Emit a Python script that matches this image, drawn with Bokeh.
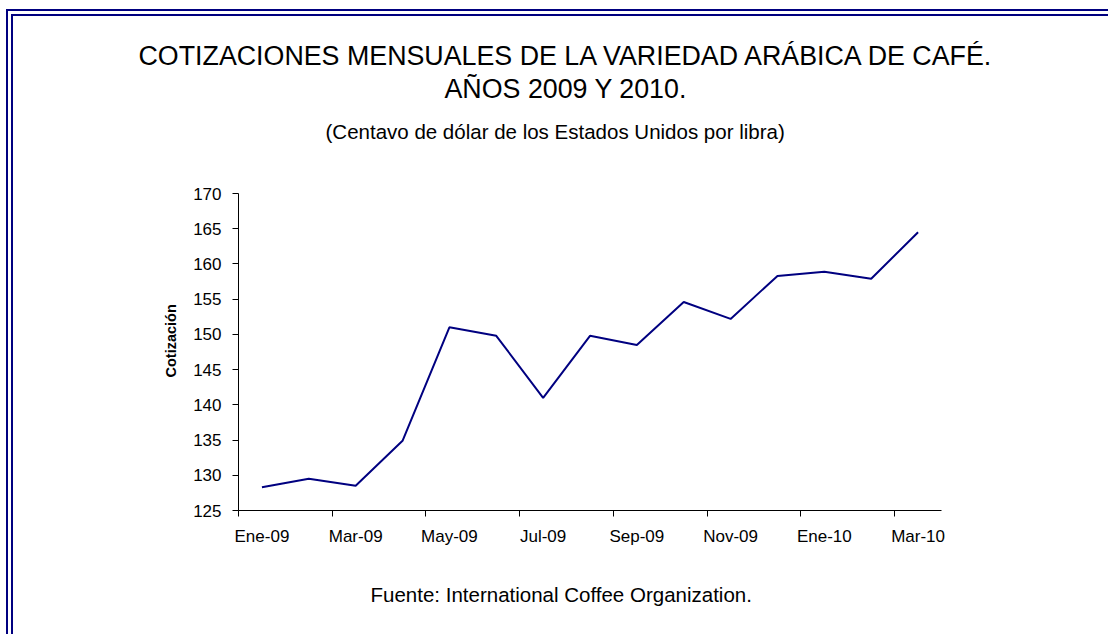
from bokeh.plotting import figure
from bokeh.models import FixedTicker, Range1d, Title
from bokeh.embed import file_html
from bokeh.resources import INLINE

# ---- data ----
months = ["Ene-09", "Feb-09", "Mar-09", "Abr-09", "May-09", "Jun-09", "Jul-09",
          "Ago-09", "Sep-09", "Oct-09", "Nov-09", "Dic-09", "Ene-10", "Feb-10", "Mar-10"]
prices = [128.3, 129.5, 128.5, 134.9, 151.0, 149.8, 141.0, 149.8, 148.5,
          154.6, 152.2, 158.3, 158.9, 157.9, 164.5]
y_ticks = [125, 130, 135, 140, 145, 150, 155, 160, 165, 170]

title_1 = "COTIZACIONES MENSUALES DE LA VARIEDAD ARÁBICA DE CAFÉ."
title_2 = "AÑOS 2009 Y 2010."
subtitle = "(Centavo de dólar de los Estados Unidos por libra)"
y_title = "Cotización"
source_note = "Fuente: International Coffee Organization."

FONT = "Liberation Sans"
NAVY = "#000080"

x = list(range(len(months)))

# double frame line on the left and top drawn as stacked box shadows
shadow_parts = []
for d, col in ((2, NAVY), (5, "white"), (7, NAVY)):
    shadow_parts += ["0 -{d}px 0 0 {c}".format(d=d, c=col),
                     "-{d}px 0 0 0 {c}".format(d=d, c=col),
                     "-{d}px -{d}px 0 0 {c}".format(d=d, c=col)]
frame_shadow = ", ".join(shadow_parts)

p = figure(width=1095, height=618, output_backend="svg", toolbar_location=None,
           x_range=Range1d(-0.5, len(months) - 0.5),
           y_range=Range1d(y_ticks[0], y_ticks[-1]),
           min_border_left=225, min_border_right=167,
           min_border_top=177, min_border_bottom=124,
           styles={"box-shadow": frame_shadow,
                   "margin-left": "13px", "margin-top": "16px"})
p.xgrid.visible = False
p.ygrid.visible = False
p.outline_line_color = None
p.background_fill_color = "white"
p.border_fill_color = "white"

p.line(x, prices, line_color=NAVY, line_width=2)

# x axis: labels at every other month centre, tick marks at category boundaries
xa = p.xaxis[0]
label_pos = x[::2]
xa.ticker = FixedTicker(ticks=label_pos, minor_ticks=[i - 0.5 for i in label_pos])
xa.major_label_overrides = {i: months[i] for i in label_pos}
xa.major_tick_out = 0
xa.major_tick_in = 0
xa.minor_tick_out = 6
xa.minor_tick_in = 0
xa.minor_tick_line_color = "black"
xa.axis_line_color = "black"
xa.major_label_standoff = 10
xa.major_label_text_font = FONT
xa.major_label_text_font_size = "17px"
xa.major_label_text_color = "black"

ya = p.yaxis[0]
ya.ticker = FixedTicker(ticks=y_ticks)
ya.minor_tick_line_color = None
ya.major_tick_out = 6
ya.major_tick_in = 0
ya.major_tick_line_color = "black"
ya.axis_line_color = "black"
ya.major_label_standoff = 11
ya.major_label_text_font = FONT
ya.major_label_text_font_size = "17px"
ya.major_label_text_color = "black"


def make_title(txt, size, offset, standoff, style="normal"):
    return Title(text=txt, text_font=FONT, text_font_size=size, text_font_style=style,
                 text_color="black", align="left", offset=offset, standoff=standoff)


# stacked outward from the frame (first = nearest)
p.add_layout(make_title(" ", "1px", 0, 33), "above")          # spacer
p.add_layout(make_title(subtitle, "20.5px", 87, 29), "above")
p.add_layout(make_title(title_2, "26.8px", 206, 0), "above")
p.add_layout(make_title(title_1, "26.8px", -100, 1), "above")
p.add_layout(make_title(y_title, "14.5px", 133, 23, style="bold"), "left")
p.add_layout(make_title(" ", "1px", 0, 29), "below")          # spacer
p.add_layout(make_title(source_note, "20.5px", 132, 0), "below")

open("out.html", "w").write(file_html(p, INLINE))
